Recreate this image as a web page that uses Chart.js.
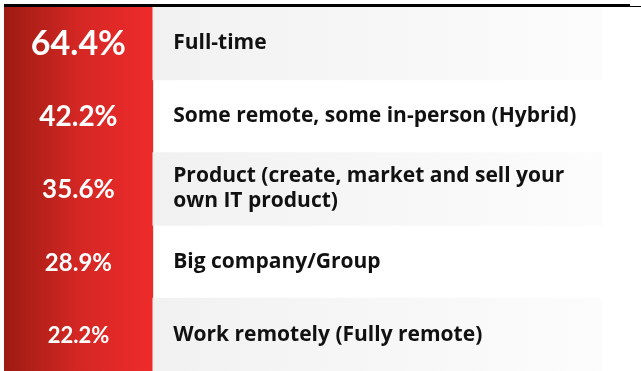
<!DOCTYPE html>
<html>
<head>
<meta charset="utf-8">
<script src="https://cdn.jsdelivr.net/npm/chart.js@4"></script>
<style>
  body { margin: 0; background: #fff; }
  #wrap { width: 641px; height: 371px; position: relative; }
</style>
</head>
<body>
<div id="wrap"><canvas id="chart"></canvas></div>
<script>
// datos del gráfico
const categorias = [
  "Full-time",
  "Some remote, some in-person (Hybrid)",
  ["Product (create, market and sell your", "own IT product)"],
  "Big company/Group",
  "Work remotely (Fully remote)"
];
const porcentajes = [64.4, 42.2, 35.6, 28.9, 22.2];

// columnas (fracción del ancho)
const finColumnaRoja = 0.234;
const finBanda = 0.94;

const ctx = document.getElementById("chart").getContext("2d");

const gradienteRojo = (c) => {
  const area = c.chart.chartArea;
  if (!area) return "#e52a28";
  const x = c.chart.scales.x;
  const g = c.chart.ctx.createLinearGradient(x.getPixelForValue(0), 0, x.getPixelForValue(finColumnaRoja), 0);
  g.addColorStop(0, "#9c1b12");
  g.addColorStop(0.5, "#d42724");
  g.addColorStop(1, "#ee2b2b");
  return g;
};

const gradienteGris = (c) => {
  const area = c.chart.chartArea;
  if (!area) return "#f2f2f2";
  const x = c.chart.scales.x;
  const g = c.chart.ctx.createLinearGradient(x.getPixelForValue(finColumnaRoja), 0, x.getPixelForValue(finBanda), 0);
  g.addColorStop(0, "#f1f1f1");
  g.addColorStop(1, "#fcfcfc");
  return g;
};

// textos: porcentaje en la columna roja y etiqueta a la derecha
const textos = {
  id: "textos",
  afterDatasetsDraw(chart) {
    const { ctx, scales: { x, y }, chartArea } = chart;
    ctx.save();
    // línea negra de arriba
    ctx.fillStyle = "#000";
    ctx.fillRect(4, chartArea.top - 3, 626, 3);
    ctx.fillRect(630, chartArea.top - 1, 11, 1);

    porcentajes.forEach((v, i) => {
      const py = y.getPixelForValue(i);
      const size = Math.round(16 + v * 0.28);
      ctx.fillStyle = "#fff";
      ctx.font = "bold " + size + "px Lato";
      ctx.textAlign = "center";
      ctx.textBaseline = "middle";
      ctx.fillText(v.toFixed(1) + "%", x.getPixelForValue(finColumnaRoja / 2), py + 1);

      const lineas = Array.isArray(categorias[i]) ? categorias[i] : [categorias[i]];
      ctx.fillStyle = "#111";
      ctx.font = "bold 21px 'Open Sans'";
      ctx.textAlign = "left";
      const alto = 25;
      lineas.forEach((t, k) => {
        ctx.fillText(t, x.getPixelForValue(0.266), py + (k - (lineas.length - 1) / 2) * alto);
      });
    });
    ctx.restore();
  }
};

new Chart(ctx, {
  type: "bar",
  data: {
    labels: categorias,
    datasets: [
      {
        label: "Banda",
        data: categorias.map((_, i) => (i % 2 === 0 ? [finColumnaRoja, finBanda] : null)),
        backgroundColor: gradienteGris,
        grouped: false,
        barPercentage: 1,
        categoryPercentage: 1,
        borderWidth: 0
      },
      {
        label: "Porcentaje",
        data: categorias.map(() => [0, finColumnaRoja]),
        backgroundColor: gradienteRojo,
        grouped: false,
        barPercentage: 1,
        categoryPercentage: 1,
        borderWidth: 0
      }
    ]
  },
  options: {
    indexAxis: "y",
    responsive: true,
    maintainAspectRatio: false,
    animation: false,
    layout: { padding: { top: 7, left: 4, right: 1, bottom: 0 } },
    plugins: { legend: { display: false }, tooltip: { enabled: false } },
    scales: {
      x: { display: false, min: 0, max: 1 },
      y: { display: false }
    }
  },
  plugins: [textos]
});
</script>
</body>
</html>
